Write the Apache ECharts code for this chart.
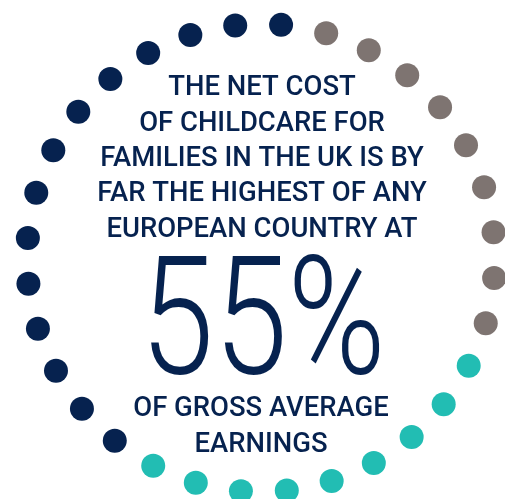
<!DOCTYPE html>
<html>
<head>
<meta charset="utf-8">
<script src="https://cdn.jsdelivr.net/npm/echarts@6/dist/echarts.min.js"></script>
<style>
html, body { margin: 0; padding: 0; background: #fff; }
#main { width: 505px; height: 499px; }
</style>
</head>
<body>
<div id="main"></div>
<script>
// 32 dot slots round the ring, numbered clockwise from the top
var slots = ['0','1','2','3','4','5','6','7','8','9','10','11','12','13','14','15',
  '16','17','18','19','20','21','22','23','24','25','26','27','28','29','30','31'];
var navyDots = [0, 19, 20, 21, 22, 23, 24, 25, 26, 27, 28, 29, 30, 31];
var greyDots = [1, 2, 3, 4, 5, 6, 7, 8, 9];
var tealDots = [10, 11, 12, 13, 14, 15, 16, 17, 18];

var headLines = ['THE NET COST', 'OF CHILDCARE FOR', 'FAMILIES IN THE UK IS BY',
  'FAR THE HIGHEST OF ANY', 'EUROPEAN COUNTRY AT'];
var bigFigure = '55%';
var footLines = ['OF GROSS AVERAGE', 'EARNINGS'];

var navy = '#06224f';
var grey = '#7e7471';
var teal = '#22bdb3';

function ring(list) {
  return list.map(function (s) { return [1, s]; });
}

var myChart = echarts.init(document.getElementById('main'));

option = {
  animation: false,
  polar: { center: [261, 258], radius: [0, 234] },
  angleAxis: {
    type: 'category',
    data: slots,
    startAngle: 90.7,
    clockwise: true,
    axisLine: { show: false },
    axisTick: { show: false },
    axisLabel: { show: false },
    splitLine: { show: false }
  },
  radiusAxis: {
    min: 0, max: 1,
    axisLine: { show: false },
    axisTick: { show: false },
    axisLabel: { show: false },
    splitLine: { show: false }
  },
  series: [
    { type: 'scatter', coordinateSystem: 'polar', symbolSize: 24, itemStyle: { color: navy, opacity: 1 }, data: ring(navyDots) },
    { type: 'scatter', coordinateSystem: 'polar', symbolSize: 24, itemStyle: { color: grey, opacity: 1 }, data: ring(greyDots) },
    { type: 'scatter', coordinateSystem: 'polar', symbolSize: 24, itemStyle: { color: teal, opacity: 1 }, data: ring(tealDots) }
  ],
  graphic: [
    {
      type: 'text', x: 262, y: 159, scaleX: 0.98,
      style: {
        text: headLines.join('\n'), fill: navy,
        font: '500 28px Roboto', lineHeight: 35.4,
        textAlign: 'center', textVerticalAlign: 'middle'
      }
    },
    {
      type: 'text', x: 263, y: 331, scaleX: 0.8,
      style: {
        text: bigFigure, fill: navy,
        font: '300 166px Roboto',
        textAlign: 'center', textVerticalAlign: 'middle'
      }
    },
    {
      type: 'text', x: 261, y: 427, scaleX: 0.98,
      style: {
        text: footLines.join('\n'), fill: navy,
        font: '500 28px Roboto', lineHeight: 35.4,
        textAlign: 'center', textVerticalAlign: 'middle'
      }
    }
  ]
};
myChart.setOption(option);
</script>
</body>
</html>
